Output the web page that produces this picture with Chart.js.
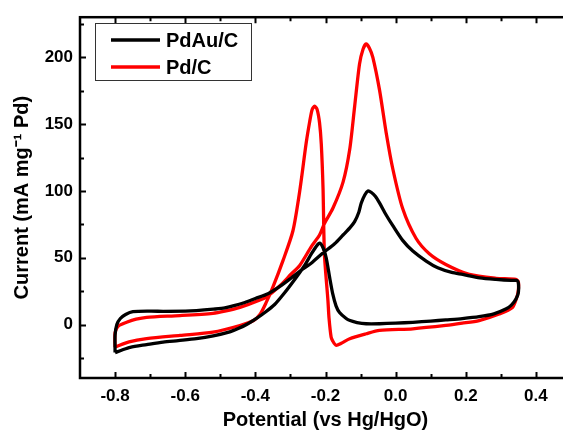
<!DOCTYPE html>
<html>
<head>
<meta charset="utf-8">
<script src="https://cdn.jsdelivr.net/npm/chart.js@4/dist/chart.umd.min.js"></script>
<style>
  html, body { margin: 0; padding: 0; background: #fff; overflow: hidden; }
  #wrap { width: 580px; height: 434px; }
</style>
</head>
<body>
<div id="wrap"><canvas id="cv" width="580" height="434"></canvas></div>
<script>
// --- DATA ---
const seriesNames = ['PdAu/C', 'Pd/C'];

// PdAu/C: anodic scan from -0.8 V, then cathodic scan back
const pdauV = [-0.800, -0.800, -0.795, -0.785, -0.770, -0.749, -0.700, -0.663, -0.600, -0.568, -0.520, -0.487,
  -0.430, -0.400, -0.364, -0.330, -0.297, -0.270, -0.240, -0.210, -0.174, -0.150, -0.130, -0.117, -0.105, -0.098,
  -0.088, -0.079, -0.070, -0.058, -0.046, -0.027, -0.008, 0.020, 0.049, 0.087, 0.120, 0.160, 0.191, 0.240, 0.286,
  0.330, 0.346,
  0.350, 0.350, 0.343, 0.330, 0.314, 0.280, 0.238, 0.190, 0.143, 0.100, 0.049, 0.000, -0.046, -0.084, -0.110,
  -0.130, -0.141, -0.160, -0.170, -0.179, -0.188, -0.198, -0.207, -0.217, -0.225, -0.240, -0.260, -0.290, -0.316,
  -0.345, -0.373, -0.400, -0.425, -0.449, -0.473, -0.520, -0.568, -0.620, -0.663, -0.710, -0.757, -0.780, -0.800];
const pdauI = [-21, -8, 0, 4.5, 7.5, 9.6, 10, 9.9, 10, 10.4, 11.5, 12.5,
  16.5, 19.5, 23, 28.5, 35, 40.5, 46, 53, 60.5, 67, 72.5, 77, 84, 91,
  97, 100, 99, 96, 91, 82, 74, 63, 55, 47.5, 42.5, 39, 37.5, 35, 33.8,
  33, 33,
  31, 24, 19, 14.5, 11.6, 8, 5.9, 4.5, 3.5, 2.6, 1.7, 1.0, 0.6, 0.6, 1.5,
  3, 4.5, 9, 14, 22.5, 35, 50, 57.5, 61, 59, 53, 44, 33, 24,
  15, 9, 4, 0, -3, -5.5, -8.5, -10.6, -12, -13.1, -15, -17, -19, -21];

// Pd/C
const pdV = [-0.800, -0.800, -0.790, -0.767, -0.740, -0.710, -0.615, -0.521, -0.487, -0.444, -0.387, -0.364,
  -0.330, -0.297, -0.274, -0.240, -0.217, -0.203, -0.179, -0.150, -0.131, -0.117, -0.103, -0.093, -0.084, -0.075,
  -0.065, -0.046, -0.027, -0.008, 0.020, 0.058, 0.096, 0.143, 0.210, 0.286, 0.343, 0.350,
  0.350, 0.345, 0.333, 0.295, 0.238, 0.190, 0.143, 0.049, -0.046, -0.084, -0.131, -0.155, -0.170, -0.180,
  -0.184, -0.190, -0.193, -0.203, -0.207, -0.212, -0.217, -0.224, -0.231, -0.238, -0.245, -0.255, -0.274, -0.293,
  -0.321, -0.350, -0.370, -0.387, -0.405, -0.444, -0.521, -0.615, -0.710, -0.760, -0.800];
const pdI = [-17, -6, -1, 1.7, 4, 5.4, 6.7, 8.4, 10, 12.8, 18.3, 21.5,
  29, 38, 44, 58.5, 67, 75.7, 87, 106.6, 131, 163, 195, 206, 210, 207,
  200, 175.6, 143.6, 116.4, 86.8, 64.6, 53, 45, 37.5, 34.6, 33.8, 32,
  26, 20, 12.8, 7.9, 3, 1, -0.7, -3.2, -4.4, -6.9, -10.6, -14, -15.5, -12,
  -9.4, 5, 17.8, 52.5, 101.6, 135, 151, 161, 163.4, 161, 152, 136, 99, 70,
  48, 28, 16, 7.5, 3, -0.7, -5.7, -8.1, -10.6, -13, -16.8];

const seriesColors = ['#000000', '#ff0000'];

const xTicks = [-0.8, -0.6, -0.4, -0.2, 0.0, 0.2, 0.4];
const xMinor = [-0.7, -0.5, -0.3, -0.1, 0.1, 0.3];
const yTicks = [0, 50, 100, 150, 200];
const yMinor = [-25, 25, 75, 125, 175, 225];

const FONT = "'Liberation Sans', Arial, Helvetica, sans-serif";

function toPoints(xs, ys) {
  return xs.map((v, i) => ({ x: v, y: ys[i] }));
}

// frame with inward ticks (left, bottom, top)
const framePlugin = {
  id: 'frame',
  afterDatasetsDraw(chart) {
    const { ctx, chartArea: a, scales: { x, y } } = chart;
    ctx.save();
    ctx.strokeStyle = '#000';
    ctx.lineWidth = 2.5;
    ctx.strokeRect(a.left, a.top, a.right - a.left, a.bottom - a.top);
    ctx.lineWidth = 2;
    ctx.beginPath();
    xTicks.concat(xMinor).forEach(v => {
      const len = xTicks.includes(v) ? 6 : 4;
      const px = Math.round(x.getPixelForValue(v)) + 0.5;
      ctx.moveTo(px, a.bottom); ctx.lineTo(px, a.bottom - len);
      ctx.moveTo(px, a.top); ctx.lineTo(px, a.top + len);
    });
    yTicks.concat(yMinor).forEach(v => {
      const len = yTicks.includes(v) ? 6 : 4;
      const py = Math.round(y.getPixelForValue(v)) + 0.5;
      ctx.moveTo(a.left, py); ctx.lineTo(a.left + len, py);
    });
    ctx.stroke();
    ctx.restore();
  }
};

// boxed legend in the upper left of the plot
const legendBox = {
  id: 'legendBox',
  afterDraw(chart) {
    const ctx = chart.ctx;
    const bx = 95, by = 23, bw = 156, bh = 57;
    ctx.save();
    ctx.fillStyle = '#fff';
    ctx.fillRect(bx, by, bw, bh);
    ctx.strokeStyle = '#333';
    ctx.lineWidth = 1;
    ctx.strokeRect(bx + 0.5, by + 0.5, bw, bh);
    ctx.font = 'bold 20px ' + FONT;
    ctx.textBaseline = 'middle';
    chart.data.datasets.forEach((ds, i) => {
      const yy = 40 + i * 27;
      ctx.strokeStyle = ds.borderColor;
      ctx.lineWidth = 3.5;
      ctx.beginPath();
      ctx.moveTo(111, yy); ctx.lineTo(160, yy);
      ctx.stroke();
      ctx.fillStyle = '#000';
      ctx.fillText(ds.label, 166, yy + 1);
    });
    ctx.restore();
  }
};

new Chart(document.getElementById('cv'), {
  type: 'scatter',
  data: {
    datasets: [
      { label: seriesNames[0], data: toPoints(pdauV, pdauI) },
      { label: seriesNames[1], data: toPoints(pdV, pdI) }
    ].map((d, i) => Object.assign(d, {
      showLine: true,
      borderColor: seriesColors[i],
      backgroundColor: seriesColors[i],
      borderWidth: 3.3,
      pointRadius: 0,
      tension: 0.25,
      fill: false
    }))
  },
  options: {
    responsive: false,
    animation: false,
    layout: { padding: { left: 0, right: 9, top: 14, bottom: 0 } },
    plugins: { legend: { display: false }, tooltip: { enabled: false } },
    scales: {
      x: {
        type: 'linear',
        min: -0.9, max: 0.5,
        afterBuildTicks: s => { s.ticks = xTicks.map(v => ({ value: v })); },
        afterFit: s => { s.height = 56; },
        grid: { display: false, drawTicks: false },
        border: { display: false },
        ticks: {
          padding: 8,
          color: '#000',
          font: { family: FONT, size: 17, weight: 'bold' },
          callback: v => v.toFixed(1)
        },
        title: {
          display: true,
          text: 'Potential (vs Hg/HgO)',
          color: '#000',
          font: { family: FONT, size: 20, weight: 'bold' },
          padding: { top: 0, bottom: 2 }
        }
      },
      y: {
        type: 'linear',
        min: -40, max: 230,
        afterBuildTicks: s => { s.ticks = yTicks.map(v => ({ value: v })); },
        afterFit: s => { s.width = 80; },
        grid: { display: false, drawTicks: false },
        border: { display: false },
        ticks: {
          padding: 7,
          color: '#000',
          font: { family: FONT, size: 17, weight: 'bold' },
          callback: v => String(v)
        },
        title: {
          display: true,
          text: 'Current (mA mg\u207B\u00B9 Pd)',
          color: '#000',
          font: { family: FONT, size: 20, weight: 'bold' },
          padding: { top: 10, bottom: 0 }
        }
      }
    }
  },
  plugins: [framePlugin, legendBox]
});
</script>
</body>
</html>
